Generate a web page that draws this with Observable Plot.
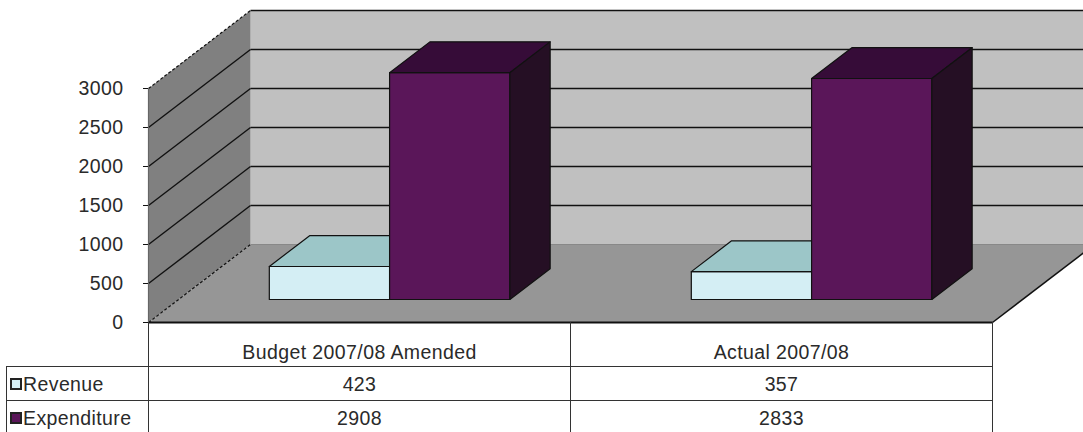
<!DOCTYPE html>
<html><head><meta charset="utf-8">
<script src="https://cdn.jsdelivr.net/npm/d3@7"></script>
<script src="https://cdn.jsdelivr.net/npm/@observablehq/plot@0.6"></script>
<style>
body{margin:0;background:#fff;font-family:Arial,"Liberation Sans",sans-serif;}
#wrap{position:relative;width:1083px;height:432px;overflow:hidden;}
#chart{position:absolute;left:0;top:0;}
#tbl{position:absolute;left:6px;top:322px;border-collapse:collapse;table-layout:fixed;font-size:19.5px;letter-spacing:0.4px;color:#2a2a2a;}
#tbl td{padding:0;text-align:center;white-space:nowrap;line-height:22px;}
#tbl td.hd{height:41px;vertical-align:bottom;padding-bottom:3px;border-left:1px solid #333;border-right:1px solid #333;}
#tbl td.lab{text-align:left;border:1px solid #333;height:33px;vertical-align:middle;}
#tbl td.val{border:1px solid #333;height:33px;vertical-align:middle;}
.key{display:inline-block;width:8px;height:8px;border:2px solid #222;margin:0 1px 0 3px;vertical-align:1px;}
</style></head><body>
<div id="wrap"><div id="chart"></div><table id="tbl"></table></div>
<script>
// ---- data ----
const categories = ["Budget 2007/08 Amended", "Actual 2007/08"];
const seriesNames = ["Revenue", "Expenditure"];
const revenue = [423, 357];
const expenditure = [2908, 2833];
const yTicks = [0, 500, 1000, 1500, 2000, 2500, 3000];

// ---- styles ----
const frontColors = {Revenue: "#d4eef4", Expenditure: "#5a1659"};
const topColors = {Revenue: "#9cc6c8", Expenditure: "#360c38"};
const sideColors = {Revenue: "#7fa9ab", Expenditure: "#250f24"};
const DX = 102 / 422, DY = 1000;          // depth projection (x units, value units)
const D0 = 0.295, D1 = 0.69;              // bar depth range
const xMax = 2;                            // categories span [0,2]
const P = (xu, v, d) => ({x: xu + d * DX, y: v + d * DY});

const values = {Revenue: revenue, Expenditure: expenditure};
const barSlots = {Revenue: [0.215, 0.5], Expenditure: [0.5, 0.785]};

function poly(pts, opts) {
  const closed = [...pts, pts[0]];
  return Plot.line(closed, {x: "x", y: "y", curve: "linear", strokeLinejoin: "round", ...opts});
}

const marks = [];
// back wall
marks.push(poly([P(0, 0, 1), P(xMax, 0, 1), P(xMax, 3000, 1), P(0, 3000, 1)], {fill: "#c0c0c0", stroke: "none"}));
// left wall
marks.push(poly([P(0, 0, 0), P(0, 3000, 0), P(0, 3000, 1), P(0, 0, 1)], {fill: "#808080", stroke: "none"}));
// floor
marks.push(poly([P(0, 0, 0), P(xMax, 0, 0), P(xMax, 0, 1), P(0, 0, 1)], {fill: "#969696", stroke: "none"}));

// gridlines on left wall and back wall
const gridVals = yTicks.filter(v => v > 0 && v < 3000);
const link = (data, a, b, opts) => Plot.link(data, {
  x1: v => a(v).x, y1: v => a(v).y, x2: v => b(v).x, y2: v => b(v).y, ...opts});
marks.push(link(gridVals, v => P(0, v, 0), v => P(0, v, 1), {stroke: "#111", strokeWidth: 1.4}));
marks.push(link(gridVals.concat([3000]), v => P(0, v, 1), v => P(xMax, v, 1), {stroke: "#111", strokeWidth: 1.4}));
// dashed left-wall edges
marks.push(link([0, 3000], v => P(0, v, 0), v => P(0, v, 1), {stroke: "#111", strokeWidth: 1.2, strokeDasharray: "3,2"}));
// floor/back wall seam
marks.push(link([0], v => P(0, v, 1), v => P(xMax, v, 1), {stroke: "#888", strokeWidth: 1}));
// floor front & right edges
marks.push(link([0], v => P(0, v, 0), v => P(xMax, v, 0), {stroke: "#111", strokeWidth: 2}));
marks.push(link([0], v => P(xMax, v, 0), v => P(xMax, v, 1), {stroke: "#111", strokeWidth: 1.5}));
// front vertical edge of left wall
marks.push(link([0], v => P(0, 0, 0), v => P(0, 3000, 0), {stroke: "#666", strokeWidth: 1.2}));

// bars
categories.forEach((c, i) => {
  seriesNames.forEach(s => {
    const v = values[s][i];
    const x0 = i + barSlots[s][0], x1 = i + barSlots[s][1];
    const st = {stroke: "#111", strokeWidth: 1.2};
    marks.push(poly([P(x0, 0, D0), P(x1, 0, D0), P(x1, v, D0), P(x0, v, D0)], {fill: frontColors[s], ...st}));
    marks.push(poly([P(x0, v, D0), P(x1, v, D0), P(x1, v, D1), P(x0, v, D1)], {fill: topColors[s], ...st}));
    marks.push(poly([P(x1, 0, D0), P(x1, 0, D1), P(x1, v, D1), P(x1, v, D0)], {fill: sideColors[s], ...st}));
  });
});

// y axis
marks.push(Plot.axisY(yTicks, {tickSize: 5, tickPadding: 20, fontSize: 19.5, stroke: "#111", fill: "#2a2a2a", label: null, tickFormat: d => String(d)}));

const chart = Plot.plot({
  width: 1083, height: 340,
  marginLeft: 148, marginRight: 0, marginTop: 10, marginBottom: 18,
  x: {domain: [0, 935 / 422], axis: null},
  y: {domain: [0, 4000], axis: null},
  style: {fontFamily: "Arial, 'Liberation Sans', sans-serif", letterSpacing: "0.4px", background: "transparent", overflow: "visible"},
  marks
});
document.getElementById("chart").appendChild(chart);

// data table (legend)
const tbl = document.getElementById("tbl");
let html = '<colgroup><col style="width:142px"><col style="width:422px"><col style="width:422px"></colgroup>';
html += '<tr><td></td>' + categories.map(c => `<td class="hd">${c}</td>`).join("") + '</tr>';
seriesNames.forEach(s => {
  html += `<tr><td class="lab"><span class="key" style="background:${frontColors[s]}"></span>${s}</td>` +
    values[s].map(v => `<td class="val">${v}</td>`).join("") + '</tr>';
});
tbl.innerHTML = html;
</script></body></html>
